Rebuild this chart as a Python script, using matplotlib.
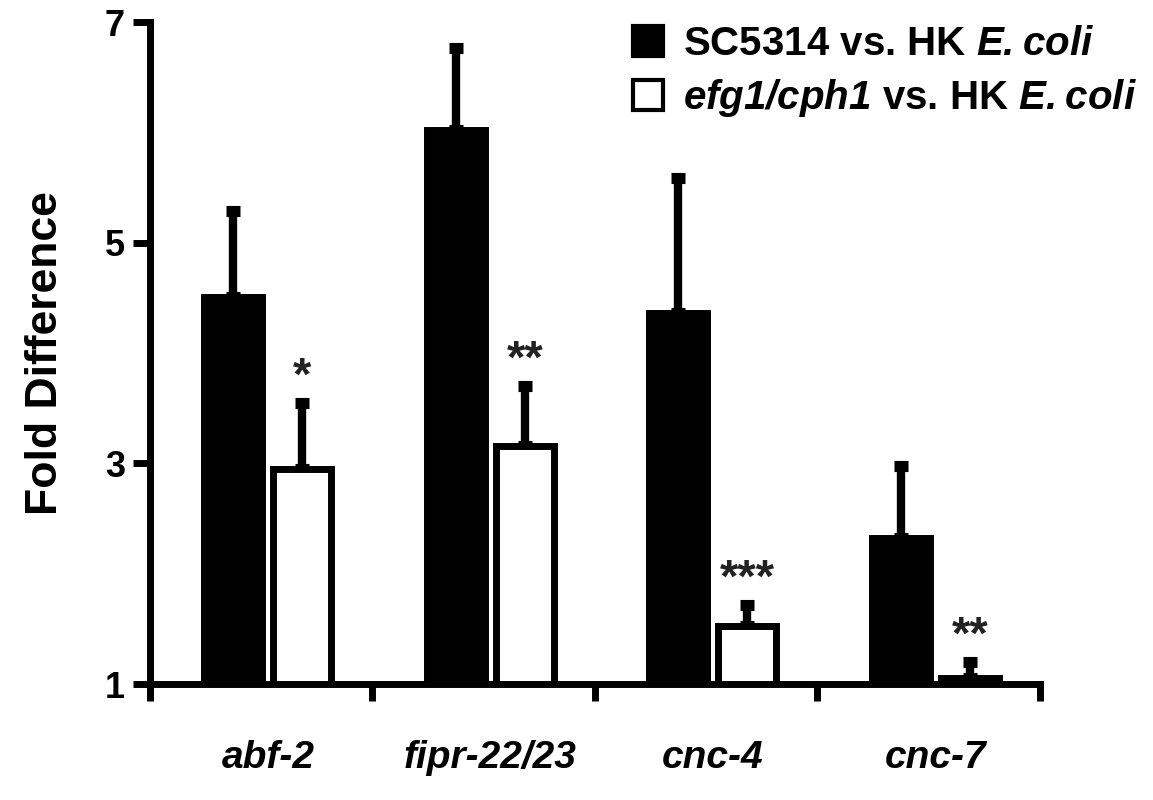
import numpy as np
import matplotlib.pyplot as plt
from matplotlib.patches import Patch

plt.rcParams['font.family'] = ['Liberation Sans', 'DejaVu Sans']
plt.rcParams['font.weight'] = 'bold'
plt.rcParams['axes.labelweight'] = 'bold'
plt.rcParams['mathtext.fontset'] = 'custom'
plt.rcParams['mathtext.bfit'] = 'Liberation Sans:bold:italic'

genes = ['abf-2', 'fipr-22/23', 'cnc-4', 'cnc-7']
wt = [4.51, 6.02, 4.36, 2.32]
wt_err = [0.78, 0.74, 1.23, 0.66]
mut = [2.95, 3.16, 1.53, 1.05]
mut_err = [0.60, 0.54, 0.19, 0.15]
stars = ['*', '**', '***', '**']

fig = plt.figure(figsize=(11.53, 8), dpi=100)
ax = fig.add_axes([0.130, 0.145, 0.772, 0.8275])

x = np.arange(len(genes)) + 0.53
w = 0.26
off = 0.155
lw = 5
ax.bar(x - off, np.array(wt) - 1, w, bottom=1, color='black', edgecolor='black', lw=lw, zorder=3)
ax.bar(x + off, np.array(mut) - 1, w, bottom=1, color='white', edgecolor='black', lw=lw, zorder=3)
ax.errorbar(x - off, wt, yerr=[np.zeros(4), wt_err], fmt='none', ecolor='black',
            elinewidth=6, capsize=5, capthick=8, zorder=2)
ax.errorbar(x + off, mut, yerr=[np.zeros(4), mut_err], fmt='none', ecolor='black',
            elinewidth=6, capsize=5, capthick=8, zorder=2)
for xi, m, e, s in zip(x, mut, mut_err, stars):
    ax.text(xi + off, m + e + 0.03, s, ha='center', va='bottom', fontsize=34, color='#222222')

ax.set_xlim(0, 4)
ax.set_ylim(1, 7)
ax.set_yticks([1, 3, 5, 7])
ax.set_xticks(x)
ax.set_xticklabels(genes, style='italic', fontsize=28)
ax.set_xticks(np.arange(5), minor=True)
ax.tick_params(axis='x', which='major', length=0, pad=40)
ax.tick_params(axis='x', which='minor', length=12, width=5, direction='out')
ax.tick_params(axis='y', length=12, width=5, labelsize=26, pad=6)
for sp in ['top', 'right']:
    ax.spines[sp].set_visible(False)
for sp in ['left', 'bottom']:
    ax.spines[sp].set_linewidth(5)
ax.set_ylabel('Fold Difference', fontsize=32, fontweight='bold', labelpad=28)

handles = [Patch(facecolor='black', edgecolor='black', lw=3),
           Patch(facecolor='white', edgecolor='black', lw=3)]
labels = [r'SC5314 vs. HK $\bfit{E. coli}$', r'$\bfit{efg1/cph1}$ vs. HK $\bfit{E. coli}$']
ax.legend(handles, labels, loc='upper right', bbox_to_anchor=(1.15, 1.05), frameon=False,
          fontsize=29, handlelength=0.75, handleheight=0.75, handletextpad=0.5, labelspacing=0.35)

fig.savefig('out.png', dpi=100)
